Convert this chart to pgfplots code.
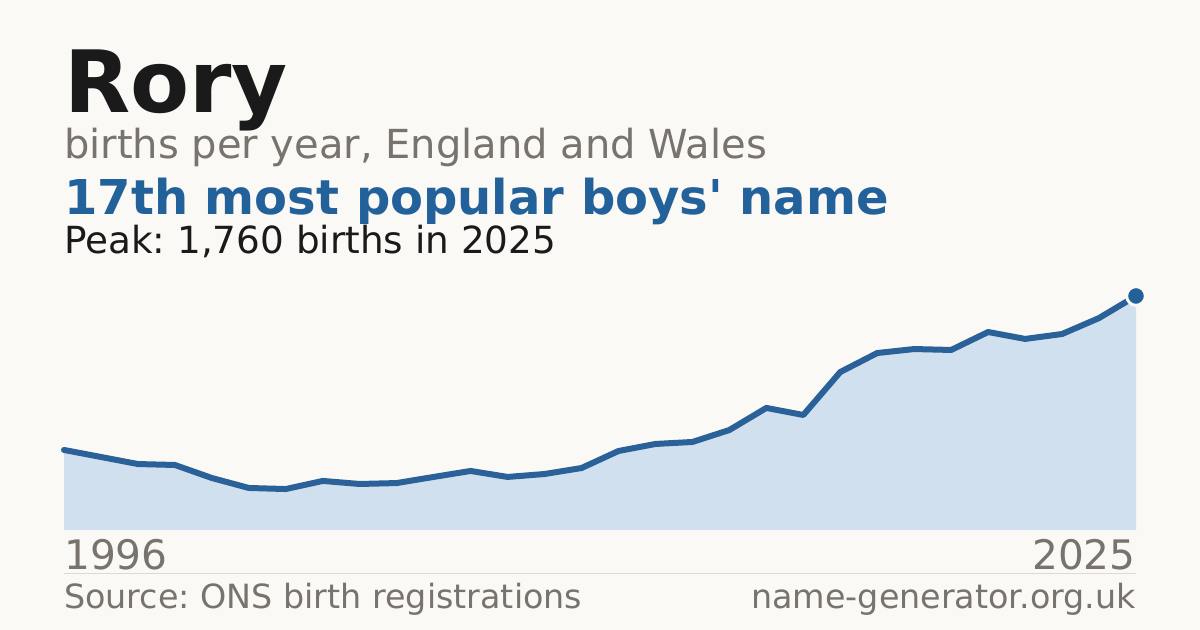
\documentclass[border=0pt]{standalone}
\usepackage{pgfplots}
\pgfplotsset{compat=1.18}
\usepackage{fontspec}
\setmainfont{DejaVu Sans}
\frenchspacing
\definecolor{bg}{HTML}{FAF9F5}
\definecolor{ink}{HTML}{1A1A1A}
\definecolor{muted}{HTML}{78736C}
\definecolor{accent}{HTML}{22619A}
\definecolor{linec}{HTML}{2A6199}
\definecolor{areac}{HTML}{D0E0EF}
\definecolor{rule}{HTML}{DDDAD3}
\pgfplotstableread{
year births
1996 602
1997 549
1998 496
1999 489
2000 391
2001 316
2002 308
2003 369
2004 346
2005 353
2006 399
2007 444
2008 399
2009 421
2010 466
2011 594
2012 647
2013 662
2014 752
2015 918
2016 865
2017 1188
2018 1331
2019 1361
2020 1354
2021 1489
2022 1437
2023 1474
2024 1594
2025 1760
}\births
\begin{document}
\frenchspacing
\begin{tikzpicture}
\fill[bg] (0pt,0pt) rectangle (900pt,472.5pt);
\begin{axis}[
  at={(48pt,75pt)}, anchor=origin,
  scale only axis, width=804pt, height=175.5pt,
  xmin=1996, xmax=2025, ymin=0, ymax=1760,
  axis lines=none, ticks=none, clip=false,
]
\addplot[fill=areac, draw=none] table[x=year,y=births] {\births} \closedcycle;
\addplot[linec, line width=4.5pt, line join=round, line cap=round] table[x=year,y=births] {\births};
\addplot[only marks, mark=*, mark size=7pt, mark options={fill=accent, draw=bg, line width=2.2pt}] table[x=year,y=births] {
year births
2025 1760
};
\end{axis}
\node[anchor=base west, inner sep=0pt, text=ink, font=\fontsize{64.5pt}{70pt}\selectfont\bfseries] at (48pt,387.75pt) {Rory};
\node[anchor=base west, inner sep=0pt, text=muted, font=\fontsize{30pt}{33pt}\selectfont] at (48pt,353.25pt) {births per year, England and Wales};
\node[anchor=base west, inner sep=0pt, text=accent, font=\fontsize{36pt}{40pt}\selectfont\bfseries] at (48pt,311.25pt) {17th most popular boys\textquotesingle\ name};
\node[anchor=base west, inner sep=0pt, text=ink, font=\fontsize{28pt}{30pt}\selectfont] at (48pt,282pt) {Peak: 1,760 births in 2025};
\node[anchor=base west, inner sep=0pt, text=muted, font=\fontsize{30.5pt}{33pt}\selectfont] at (48pt,45pt) {1996};
\node[anchor=base east, inner sep=0pt, text=muted, font=\fontsize{30.5pt}{33pt}\selectfont] at (852pt,45pt) {2025};
\draw[rule, line width=0.75pt] (48pt,42pt) -- (852pt,42pt);
\node[anchor=base west, inner sep=0pt, text=muted, font=\fontsize{25pt}{27pt}\selectfont] at (48pt,15.75pt) {Source: ONS birth registrations};
\node[anchor=base east, inner sep=0pt, text=muted, font=\fontsize{25pt}{27pt}\selectfont] at (852pt,15.75pt) {name-generator.org.uk};
\end{tikzpicture}
\end{document}
